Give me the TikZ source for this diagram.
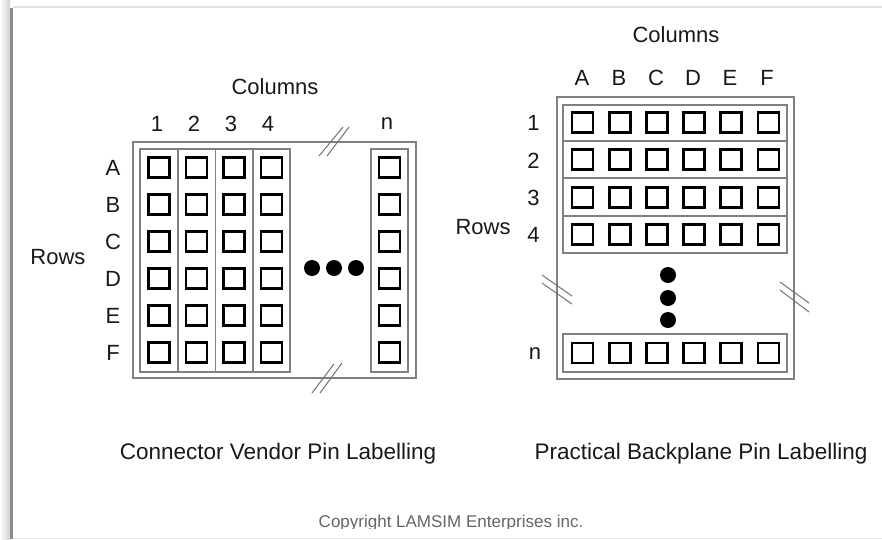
\documentclass[tikz,border=0pt]{standalone}
\usepackage{fontspec}
\setmainfont{Liberation Sans}
\begin{document}
\begin{tikzpicture}[x=1pt,y=-1pt,
  lbl/.style={inner sep=0pt, font=\fontsize{22}{26}\selectfont, text=black!90,
              text height=15.7pt, text depth=0pt},
  caption/.style={inner sep=0pt, font=\fontsize{22.5}{27}\selectfont, text=black!90,
              text height=16pt, text depth=0pt},
  frame/.style={draw=black!50, line width=1.4pt},
  strip/.style={draw=black!50, line width=1.3pt},
  pin/.style={draw=black, line width=2.8pt, minimum width=21pt, minimum height=20pt,
              inner sep=0pt},
  dot/.style={fill=black},
  brk/.style={draw=black!55, line width=1pt}]
\useasboundingbox (0,0) rectangle (882,539);
% sheet with a soft left edge
\fill[white] (0,0) rectangle (882,539);
\shade[left color=white, right color=black!18] (0,0) rectangle (10,539);
\draw[black!45, line width=3pt] (11.5,8) -- (11.5,539);
\draw[black!12, line width=1.5pt] (13,7) -- (882,7);
\draw[black!8, line width=1pt] (13,538) -- (882,538);

% ---------------- connector vendor labelling ----------------
\draw[frame] (133,142) rectangle (416,378);
\foreach \xa/\xb in {140/178,178/215.5,215.5/253,253/290}
  \draw[strip] (\xa,149) rectangle (\xb,372);
\draw[strip] (371,149) rectangle (408,372);
\foreach \r [count=\i] in {A,B,C,D,E,F}{
  \foreach \c [count=\j] in {1,2,3,4}
    \node[pin] (v\r\c) at ({159+37.5*(\j-1)},{167.5+37*(\i-1)}) {};
  \node[pin] (v\r n) at (389.5,{167.5+37*(\i-1)}) {};
  \node[lbl] (vrow\r) at (113,{167.5+37*(\i-1)}) {\r};
}
\foreach \c [count=\j] in {1,2,3,4}
  \node[lbl] (vcol\c) at ({157+37*(\j-1)},124) {\c};
\node[lbl] (vcoln) at (387,122) {n};
\node[lbl] (vcolumns) at (275,87) {Columns};
\node[lbl] (vrows) at (58,257) {Rows};
\foreach \x [count=\k] in {312,334,356}
  \fill[dot] (\x,268) circle (8);
% break marks on the vendor frame
\draw[brk] (319,156) -- (343,127);
\draw[brk] (327,156) -- (349,127);
\draw[brk] (312,393) -- (334,364);
\draw[brk] (320,393) -- (342,363);
\node[caption] (vcap) at (278,451) {Connector Vendor Pin Labelling};

% ---------------- practical backplane labelling ----------------
\draw[frame] (557,97) rectangle (794,379);
\foreach \ya/\yb in {105/141,141/178,178/216,216/253}
  \draw[strip] (563,\ya) rectangle (787,\yb);
\draw[strip] (563,334) rectangle (787,372);
\foreach \r [count=\i] in {1,2,3,4}{
  \foreach \c [count=\j] in {A,B,C,D,E,F}
    \node[pin] (b\r\c) at ({582.5+37.2*(\j-1)},{122.5+37.3*(\i-1)}) {};
  \node[lbl] (brow\r) at (533.5,{123+37.3*(\i-1)}) {\r};
}
\foreach \c [count=\j] in {A,B,C,D,E,F}{
  \node[pin] (bn\c) at ({582.5+37.2*(\j-1)},353) {};
  \node[lbl] (bcol\c) at ({582+37*(\j-1)},78) {\c};
}
\node[lbl] (brown) at (535,352) {n};
\node[lbl] (bcolumns) at (676,35) {Columns};
\node[lbl] (brows) at (483,227) {Rows};
\foreach \y in {275,298,320}
  \fill[dot] (668,\y) circle (8);
% break marks on the backplane frame
\draw[brk] (542,275) -- (572,296);
\draw[brk] (542,283) -- (572,304);
\draw[brk] (780,282) -- (809,303);
\draw[brk] (780,290) -- (809,312);
\node[caption] (bcap) at (701,451) {Practical Backplane Pin Labelling};

% footer
\begin{scope}
  \clip (250,490) rectangle (650,528.5);
  \node[inner sep=0pt, anchor=base, font=\fontsize{17}{20}\selectfont, text=black!60]
    (copy) at (451,527) {Copyright LAMSIM Enterprises inc.};
\end{scope}
\end{tikzpicture}
\end{document}
